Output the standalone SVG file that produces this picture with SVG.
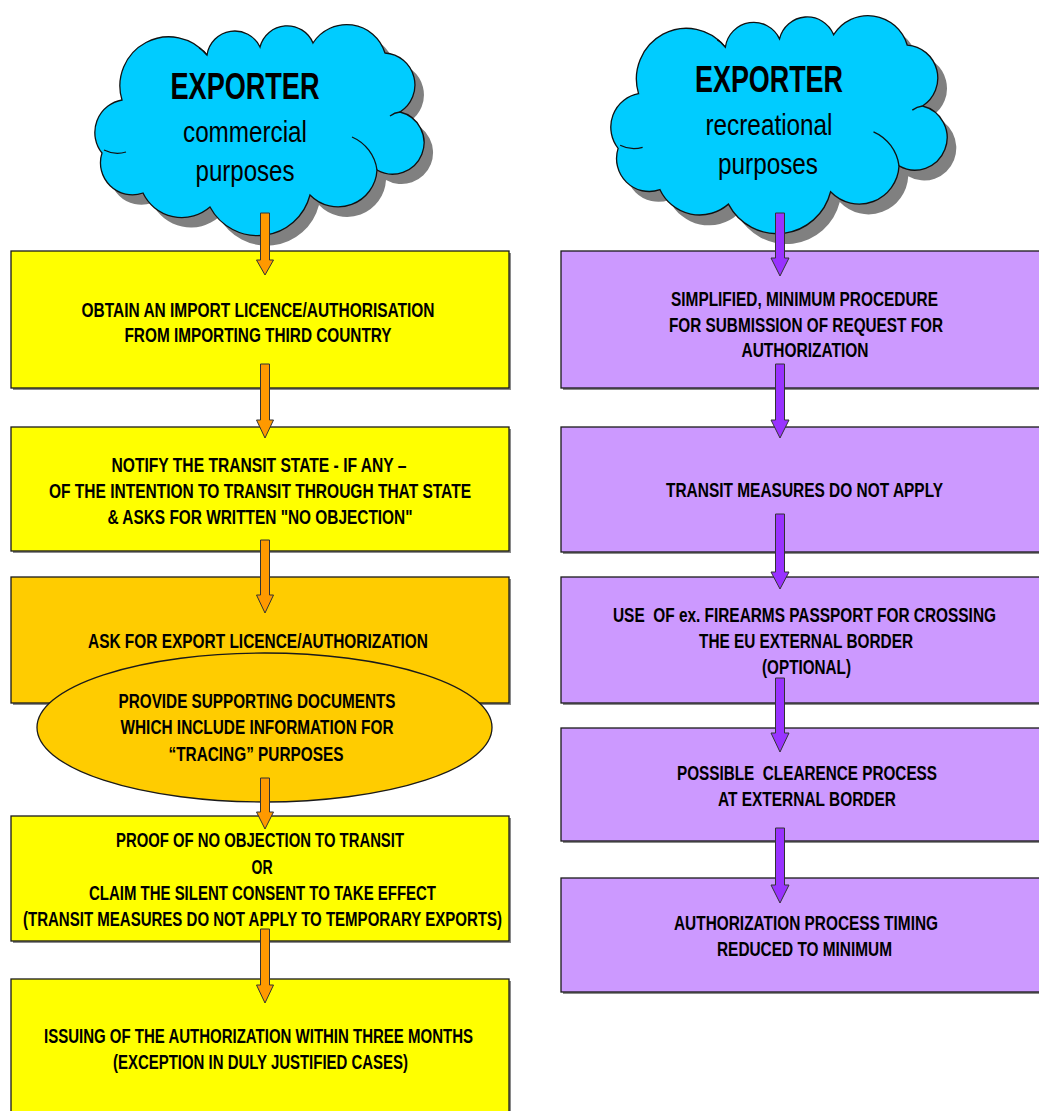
<svg xmlns="http://www.w3.org/2000/svg" xmlns:xlink="http://www.w3.org/1999/xlink" width="1039" height="1111" viewBox="0 0 1039 1111">
<style>
.box{stroke:#1a1a1a;stroke-width:1.3}
.shadow{fill:#8a8a8a}
.yel{fill:#FFFF00}
.org{fill:#FFCC00}
.pur{fill:#CC99FF}
.cloud{fill:#00CCFF;stroke:#111;stroke-width:1.3}
.cline{fill:none;stroke:#111;stroke-width:1.3}
.cshadow{fill:#808080}
.t{font-family:"Liberation Sans Narrow","Arial Narrow","Liberation Sans",Arial,sans-serif;font-weight:bold;font-size:19.5px;fill:#000;text-anchor:middle;white-space:pre}
.ct{font-family:"Liberation Sans Narrow","Arial Narrow","Liberation Sans",Arial,sans-serif;fill:#000;text-anchor:middle}
.arO{fill:#FF9900;stroke:#333;stroke-width:1}
.arP{fill:#9933FF;stroke:#333;stroke-width:1}
</style>
<defs>
<path id="cloudShape" d="M102,153 A33,33 0 0 1 122,100 A49,49 0 0 1 207,55 A28,28 0 0 1 260,47 A28,28 0 0 1 313,43 A40,40 0 0 1 385,53 A32,32 0 0 1 400,112 A31.5,31.5 0 1 1 377,170 A39,39 0 0 1 310,195 A54,54 0 0 1 210,207 A43,43 0 0 1 143,193 A32,32 0 0 1 102,153 Z"/>
<path id="cloudLines" d="M352,137 A42,42 0 0 1 377,170 M104,150 A30,30 0 0 0 126,152 M199,48 A20,20 0 0 1 207,55 M400,112 A20,20 0 0 0 390,116"/>
</defs>
<rect width="1039" height="1111" fill="#fff"/>

<g id="cloud-commercial">
<use xlink:href="#cloudShape" class="cshadow" transform="translate(9,10)"/>
<use xlink:href="#cloudShape" class="cloud"/>
<use xlink:href="#cloudLines" class="cline"/>
<text class="ct" x="245" y="99" font-size="37" font-weight="bold" textLength="149" lengthAdjust="spacingAndGlyphs">EXPORTER</text>
<text class="ct" x="245" y="142" font-size="29" textLength="124" lengthAdjust="spacingAndGlyphs">commercial</text>
<text class="ct" x="245" y="181" font-size="29" textLength="99" lengthAdjust="spacingAndGlyphs">purposes</text>
</g>

<g id="cloud-recreational">
<g transform="translate(513.9,-9.7) scale(1.0216,1.033)">
<use xlink:href="#cloudShape" class="cshadow" transform="translate(9,10)"/>
<use xlink:href="#cloudShape" class="cloud"/>
<use xlink:href="#cloudLines" class="cline"/>
</g>
<text class="ct" x="769" y="92" font-size="37" font-weight="bold" textLength="148" lengthAdjust="spacingAndGlyphs">EXPORTER</text>
<text class="ct" x="769" y="135" font-size="29" textLength="127" lengthAdjust="spacingAndGlyphs">recreational</text>
<text class="ct" x="768" y="174" font-size="29" textLength="100" lengthAdjust="spacingAndGlyphs">purposes</text>
</g>

<g id="box-import-licence">
<rect class="shadow" x="13" y="253" width="498" height="137"/>
<rect class="box yel" x="11" y="251" width="498" height="137"/>
<text class="t" x="258" y="317" textLength="353" lengthAdjust="spacingAndGlyphs">OBTAIN AN IMPORT LICENCE/AUTHORISATION</text>
<text class="t" x="258" y="342" textLength="267" lengthAdjust="spacingAndGlyphs">FROM IMPORTING THIRD COUNTRY</text>
</g>

<g id="box-notify-transit">
<rect class="shadow" x="13" y="429" width="498" height="124"/>
<rect class="box yel" x="11" y="427" width="498" height="124"/>
<text class="t" x="259" y="472" textLength="295" lengthAdjust="spacingAndGlyphs">NOTIFY THE TRANSIT STATE - IF ANY –</text>
<text class="t" x="260" y="498" textLength="422" lengthAdjust="spacingAndGlyphs">OF THE INTENTION TO TRANSIT THROUGH THAT STATE</text>
<text class="t" x="260" y="524" textLength="305" lengthAdjust="spacingAndGlyphs">&amp; ASKS FOR WRITTEN "NO OBJECTION"</text>
</g>

<g id="box-export-licence">
<rect class="shadow" x="13" y="579" width="498" height="126"/>
<rect class="box org" x="11" y="577" width="498" height="126"/>
<text class="t" x="258" y="648" textLength="340" lengthAdjust="spacingAndGlyphs">ASK FOR EXPORT LICENCE/AUTHORIZATION</text>
</g>

<g id="ellipse-supporting-docs">
<ellipse class="box org" cx="264.5" cy="727.5" rx="227.5" ry="74.5"/>
<text class="t" x="257" y="708" textLength="277" lengthAdjust="spacingAndGlyphs">PROVIDE SUPPORTING DOCUMENTS</text>
<text class="t" x="257" y="734" textLength="273" lengthAdjust="spacingAndGlyphs">WHICH INCLUDE INFORMATION FOR</text>
<text class="t" x="256" y="761" textLength="175" lengthAdjust="spacingAndGlyphs">“TRACING” PURPOSES</text>
</g>

<g id="box-proof-no-objection">
<rect class="shadow" x="13" y="818" width="498" height="125"/>
<rect class="box yel" x="11" y="816" width="498" height="125"/>
<text class="t" x="260" y="847" textLength="288" lengthAdjust="spacingAndGlyphs">PROOF OF NO OBJECTION TO TRANSIT</text>
<text class="t" x="262" y="874" textLength="21" lengthAdjust="spacingAndGlyphs">OR</text>
<text class="t" x="262.5" y="900" textLength="347" lengthAdjust="spacingAndGlyphs">CLAIM THE SILENT CONSENT TO TAKE EFFECT</text>
<text class="t" x="262.5" y="926" textLength="479" lengthAdjust="spacingAndGlyphs">(TRANSIT MEASURES DO NOT APPLY TO TEMPORARY EXPORTS)</text>
</g>

<g id="box-issuing">
<rect class="shadow" x="13" y="981" width="498" height="140"/>
<rect class="box yel" x="11" y="979" width="498" height="140"/>
<text class="t" x="258.5" y="1043" textLength="429" lengthAdjust="spacingAndGlyphs">ISSUING OF THE AUTHORIZATION WITHIN THREE MONTHS</text>
<text class="t" x="260.5" y="1069" textLength="295" lengthAdjust="spacingAndGlyphs">(EXCEPTION IN DULY JUSTIFIED CASES)</text>
</g>

<g id="box-simplified">
<rect class="shadow" x="563" y="253" width="490" height="137"/>
<rect class="box pur" x="561" y="251" width="490" height="137"/>
<text class="t" x="804.5" y="306" textLength="267" lengthAdjust="spacingAndGlyphs">SIMPLIFIED, MINIMUM PROCEDURE</text>
<text class="t" x="806" y="332" textLength="274" lengthAdjust="spacingAndGlyphs">FOR SUBMISSION OF REQUEST FOR</text>
<text class="t" x="805" y="357" textLength="127" lengthAdjust="spacingAndGlyphs">AUTHORIZATION</text>
</g>

<g id="box-transit-not-apply">
<rect class="shadow" x="563" y="429" width="490" height="125"/>
<rect class="box pur" x="561" y="427" width="490" height="125"/>
<text class="t" x="804.5" y="497" textLength="277" lengthAdjust="spacingAndGlyphs">TRANSIT MEASURES DO NOT APPLY</text>
</g>

<g id="box-passport">
<rect class="shadow" x="563" y="579" width="490" height="126"/>
<rect class="box pur" x="561" y="577" width="490" height="126"/>
<text class="t" x="804.5" y="622" textLength="383" lengthAdjust="spacingAndGlyphs">USE  OF ex. FIREARMS PASSPORT FOR CROSSING</text>
<text class="t" x="806" y="648" textLength="214" lengthAdjust="spacingAndGlyphs">THE EU EXTERNAL BORDER</text>
<text class="t" x="806.5" y="674" textLength="89" lengthAdjust="spacingAndGlyphs">(OPTIONAL)</text>
</g>

<g id="box-clearence">
<rect class="shadow" x="563" y="730" width="490" height="113"/>
<rect class="box pur" x="561" y="728" width="490" height="113"/>
<text class="t" x="807" y="780" textLength="260" lengthAdjust="spacingAndGlyphs">POSSIBLE  CLEARENCE PROCESS</text>
<text class="t" x="807" y="806" textLength="178" lengthAdjust="spacingAndGlyphs">AT EXTERNAL BORDER</text>
</g>

<g id="box-timing">
<rect class="shadow" x="563" y="880" width="490" height="114"/>
<rect class="box pur" x="561" y="878" width="490" height="114"/>
<text class="t" x="806" y="930" textLength="264" lengthAdjust="spacingAndGlyphs">AUTHORIZATION PROCESS TIMING</text>
<text class="t" x="804.5" y="956" textLength="175" lengthAdjust="spacingAndGlyphs">REDUCED TO MINIMUM</text>
</g>

<g id="connectors">
<path class="arO" d="M260.5,213 H269.5 V260 H273.5 L265,275 L256.5,260 H260.5 Z"/>
<path class="arO" d="M260.5,364 H269.5 V420 H273.5 L265,438 L256.5,420 H260.5 Z"/>
<path class="arO" d="M260.5,540 H269.5 V595 H273.5 L265,613 L256.5,595 H260.5 Z"/>
<path class="arO" d="M260.5,778 H269.5 V812 H273.5 L265,829 L256.5,812 H260.5 Z"/>
<path class="arO" d="M260.5,929 H269.5 V985 H273.5 L265,1003 L256.5,985 H260.5 Z"/>
<path class="arP" d="M775.5,213 H784.5 V258 H789 L780,276 L771,258 H775.5 Z"/>
<path class="arP" d="M775.5,364 H784.5 V420 H789 L780,438 L771,420 H775.5 Z"/>
<path class="arP" d="M775.5,514 H784.5 V572 H789 L780,589 L771,572 H775.5 Z"/>
<path class="arP" d="M775.5,678 H784.5 V733 H789 L780,752 L771,733 H775.5 Z"/>
<path class="arP" d="M775.5,828 H784.5 V885 H789 L780,903 L771,885 H775.5 Z"/>
</g>
</svg>
